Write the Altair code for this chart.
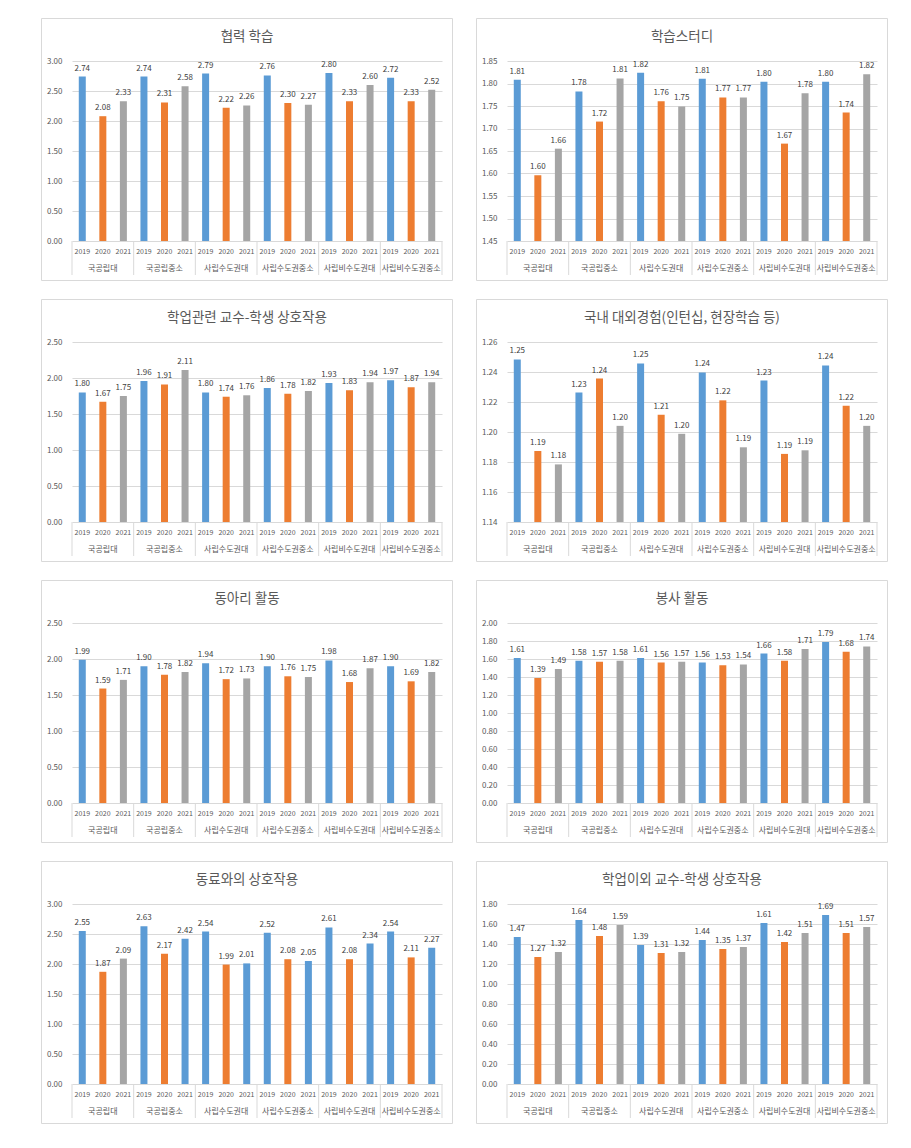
import altair as alt
import pandas as pd
import numpy as np

GROUPS = ["국공립대", "국공립중소", "사립수도권대", "사립수도권중소", "사립비수도권대", "사립비수도권중소"]
YEARS = ["2019", "2020", "2021"]
COLORS = ["#5B9BD5", "#ED7D31", "#A5A5A5"]

TITLES = [
    "협력 학습",
    "학습스터디",
    "학업관련 교수-학생 상호작용",
    "국내 대외경험(인턴십, 현장학습 등)",
    "동아리 활동",
    "봉사 활동",
    "동료와의 상호작용",
    "학업이외 교수-학생 상호작용",
]

# 협력 학습
coop_2019 = [2.74, 2.74, 2.79, 2.76, 2.80, 2.72]
coop_2020 = [2.08, 2.31, 2.22, 2.30, 2.33, 2.33]
coop_2021 = [2.33, 2.58, 2.26, 2.27, 2.60, 2.52]
# 학습스터디
study_2019 = [1.8084, 1.7823, 1.8240, 1.8106, 1.8039, 1.8039]
study_2020 = [1.5960, 1.7154, 1.7608, 1.7690, 1.6664, 1.7355]
study_2021 = [1.6552, 1.8113, 1.7489, 1.7690, 1.7786, 1.8203]
# 학업관련 교수-학생 상호작용
acad_2019 = [1.80, 1.96, 1.80, 1.86, 1.93, 1.97]
acad_2020 = [1.67, 1.91, 1.74, 1.78, 1.83, 1.87]
acad_2021 = [1.75, 2.11, 1.76, 1.82, 1.94, 1.94]
# 국내 대외경험
ext_2019 = [1.2484, 1.2263, 1.2457, 1.2397, 1.2343, 1.2444]
ext_2020 = [1.1874, 1.2356, 1.2115, 1.2211, 1.1854, 1.2175]
ext_2021 = [1.1784, 1.2041, 1.1988, 1.1898, 1.1878, 1.2041]
# 동아리 활동
club_2019 = [1.99, 1.90, 1.94, 1.90, 1.98, 1.90]
club_2020 = [1.59, 1.78, 1.72, 1.76, 1.68, 1.69]
club_2021 = [1.71, 1.82, 1.73, 1.75, 1.87, 1.82]
# 봉사 활동
vol_2019 = [1.61, 1.58, 1.61, 1.56, 1.66, 1.79]
vol_2020 = [1.39, 1.57, 1.56, 1.53, 1.58, 1.68]
vol_2021 = [1.49, 1.58, 1.57, 1.54, 1.71, 1.74]
# 동료와의 상호작용
peer_2019 = [2.55, 2.63, 2.54, 2.52, 2.61, 2.54]
peer_2020 = [1.87, 2.17, 1.99, 2.08, 2.08, 2.11]
peer_2021 = [2.09, 2.42, 2.01, 2.05, 2.34, 2.27]
peer_2021_color_key = ["2021", "2019", "2019", "2019", "2019", "2019"]
# 학업이외 교수-학생 상호작용
nonacad_2019 = [1.47, 1.64, 1.39, 1.44, 1.61, 1.69]
nonacad_2020 = [1.27, 1.48, 1.31, 1.35, 1.42, 1.51]
nonacad_2021 = [1.32, 1.59, 1.32, 1.37, 1.51, 1.57]

# y axis: (min, max, step)
Y_AXES = [
    (0.0, 3.0, 0.5),
    (1.45, 1.85, 0.05),
    (0.0, 2.5, 0.5),
    (1.14, 1.26, 0.02),
    (0.0, 2.5, 0.5),
    (0.0, 2.0, 0.2),
    (0.0, 3.0, 0.5),
    (0.0, 1.8, 0.2),
]

SERIES = [
    (coop_2019, coop_2020, coop_2021, None),
    (study_2019, study_2020, study_2021, None),
    (acad_2019, acad_2020, acad_2021, None),
    (ext_2019, ext_2020, ext_2021, None),
    (club_2019, club_2020, club_2021, None),
    (vol_2019, vol_2020, vol_2021, None),
    (peer_2019, peer_2020, peer_2021, peer_2021_color_key),
    (nonacad_2019, nonacad_2020, nonacad_2021, None),
]

W, H = 370, 180
FONT = "Noto Sans CJK KR"
TXT = "#595959"
GRID = "#D9D9D9"


def panel(title, v19, v20, v21, ck21, ymin, ymax, step):
    rows = []
    for gi, g in enumerate(GROUPS):
        for yr, vals in zip(YEARS, (v19, v20, v21)):
            ck = yr
            if yr == "2021" and ck21 is not None:
                ck = ck21[gi]
            rows.append(dict(key=f"{g}|{yr}", group=g, year=yr, value=vals[gi], ck=ck))
    df = pd.DataFrame(rows)
    keys = list(df["key"])
    n = int(round((ymax - ymin) / step))
    ticks = [float(round(ymin + i * step, 2)) for i in range(n + 1)]

    xscale = alt.Scale(domain=keys, paddingInner=0, paddingOuter=0)
    yscale = alt.Scale(domain=[ymin, ymax], zero=False, nice=False)
    x = alt.X(
        "key:N",
        scale=xscale,
        axis=alt.Axis(
            title=None,
            labelExpr="split(datum.value, '|')[1]",
            labelAngle=0,
            domain=False,
            ticks=False,
            grid=False,
            labelFontSize=7,
            labelColor=TXT,
            labelPadding=6,
            labelFont=FONT,
            labelOverlap=False,
        ),
    )
    y = alt.Y(
        "value:Q",
        scale=yscale,
        axis=alt.Axis(
            title=None,
            values=ticks,
            tickCount=len(ticks),
            format=".2f",
            domain=False,
            ticks=False,
            grid=True,
            gridColor=GRID,
            gridWidth=1,
            labelFontSize=8,
            labelColor=TXT,
            labelPadding=10,
            labelFont=FONT,
            labelOverlap=False,
            labelFlush=False,
        ),
    )
    base = alt.Chart(df)
    bars = base.mark_bar(width=7).encode(
        x=x,
        y=y,
        y2=alt.datum(ymin),
        color=alt.Color("ck:N", scale=alt.Scale(domain=YEARS, range=COLORS), legend=None),
    )
    labels = base.mark_text(
        dy=-4, baseline="bottom", fontSize=8, color="#404040", font=FONT
    ).encode(
        x=x,
        y=y,
        text=alt.Text("value:Q", format=".2f"),
    )
    glabels = base.transform_filter(alt.datum.year == "2020").mark_text(
        fontSize=8, color=TXT, baseline="middle", font=FONT
    ).encode(
        x=x,
        y=alt.value(H + 28),
        text="group:N",
    )
    seps = base.transform_filter(alt.datum.year == "2019").mark_rule(
        color=GRID, strokeWidth=1
    ).encode(
        x=alt.X("key:N", scale=xscale, bandPosition=0),
        y=alt.value(H),
        y2=alt.value(H + 34),
    )
    last_sep = base.transform_filter(alt.datum.key == keys[-1]).mark_rule(
        color=GRID, strokeWidth=1
    ).encode(
        x=alt.X("key:N", scale=xscale, bandPosition=1),
        y=alt.value(H),
        y2=alt.value(H + 34),
    )
    tdf = pd.DataFrame({"title": [title]})
    frame = alt.Chart(tdf).mark_rect(
        fillOpacity=0, fill="white", stroke=GRID, strokeWidth=1
    ).encode(
        x=alt.value(-30.5), x2=alt.value(W + 10.5), y=alt.value(-42.5), y2=alt.value(H + 39.5)
    )
    ttl = alt.Chart(tdf).mark_text(
        fontSize=13.5, color=TXT, baseline="middle", align="center", font=FONT
    ).encode(
        x=alt.value(175), y=alt.value(-24), text="title:N"
    )
    return alt.layer(bars, labels, seps, last_sep, glabels, frame, ttl).properties(
        width=W, height=H
    )


panels = []
for i in range(8):
    v19, v20, v21, ck = SERIES[i]
    ymin, ymax, step = Y_AXES[i]
    panels.append(panel(TITLES[i], v19, v20, v21, ck, ymin, ymax, step))

rows = [alt.hconcat(panels[2 * r], panels[2 * r + 1], spacing=23) for r in range(4)]
chart = alt.vconcat(*rows, spacing=18).properties(
    padding={"left": 33, "top": 10, "right": 5, "bottom": 5}
).configure(font=FONT, view=alt.ViewConfig(stroke=None))

chart.save("out.html", embed_options={"renderer": "svg", "actions": False})
